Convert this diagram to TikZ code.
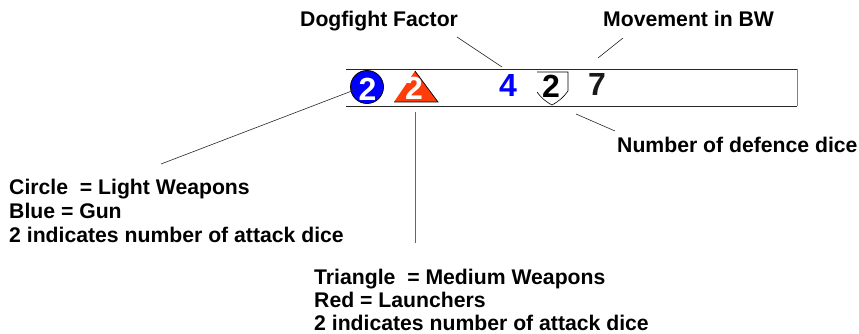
\documentclass[tikz,border=0pt]{standalone}
\usepackage{fontspec}
\setmainfont{Liberation Sans}
\definecolor{lred}{RGB}{255,60,10}
\definecolor{lblue}{RGB}{0,0,255}
\tikzset{
 lbl/.style={inner sep=0pt,anchor=base west,font=\fontsize{21.2pt}{23pt}\selectfont\bfseries,align=left},
 lead/.style={draw=black!85,line width=0.6pt},
 bignum/.style={inner sep=0pt,anchor=base,font=\fontsize{32pt}{32pt}\selectfont\bfseries},
}
\begin{document}
\begin{tikzpicture}[x=1pt,y=-1pt,line cap=butt]
\useasboundingbox (0,0) rectangle (859,334);
% bar
\coordinate (bl) at (346,106); \coordinate (tl) at (346,69);
\coordinate (tr) at (797,69); \coordinate (br) at (797,106);
\draw[black!85,line width=0.7pt] (bl) -- (br);
\draw[black!85,line width=0.7pt] (tl) -- (tr);
\draw[black!50,line width=1pt] (tr) -- (br);
% circle
\node[circle,draw=black,line width=0.8pt,fill=lblue,minimum size=33pt,inner sep=0pt] (circ) at (367,87) {};
\node[bignum,white] (n1) at (367.5,101) {2};
% triangle
\coordinate (ta) at (415,71); \coordinate (tb) at (394,102); \coordinate (tc) at (438,102);
\draw[fill=lred,draw=none] (ta) -- (tc) -- (tb) -- cycle;
\draw[black,line width=0.7pt] (tb) -- (tc) -- (ta);
\node[bignum,white] (n2) at (414,100) {2};
% numbers
\node[bignum,text=lblue] (n4) at (508,97) {4};
\coordinate (s1) at (537,72); \coordinate (s2) at (568,72); \coordinate (s3) at (568,91);
\coordinate (s4) at (552,105); \coordinate (s5) at (537,92);
\draw[black,line width=0.6pt] (s1) -- (s2) -- (s3) to[bend left=12] (s4) to[bend left=12] (s5);
\node[bignum] (n5) at (551,98) {2};
\node[bignum,text=black!90] (n7) at (597,96) {7};
% labels
\node[lbl] (df) at (300,27) {Dogfight Factor};
\node[lbl] (mv) at (603,27) {Movement in BW};
\node[lbl] (nd) at (617,152) {Number of defence dice};
\node[lbl] (cl1) at (9,194) {Circle\ \ = Light Weapons};
\node[lbl] (cl2) at (9,218) {Blue = Gun};
\node[lbl] (cl3) at (9,242) {2 indicates number of attack dice};
\node[lbl] (tr1) at (314,284) {Triangle\ \ = Medium Weapons};
\node[lbl] (tr2) at (314,307) {Red = Launchers};
\node[lbl] (tr3) at (314,330) {2 indicates number of attack dice};
% leaders
\coordinate (a1) at (457,37); \coordinate (a2) at (502,67);
\coordinate (b1) at (623,38); \coordinate (b2) at (598,58);
\coordinate (c1) at (576,114); \coordinate (c2) at (615,131);
\coordinate (d1) at (357,89); \coordinate (d2) at (161,164);
\coordinate (e1) at (415,112); \coordinate (e2) at (415,243);
\draw[lead] (a1) -- (a2);
\draw[lead] (b1) -- (b2);
\draw[lead] (c1) -- (c2);
\draw[lead] (d1) -- (d2);
\draw[lead,black!60] (e1) -- (e2);
\end{tikzpicture}
\end{document}
